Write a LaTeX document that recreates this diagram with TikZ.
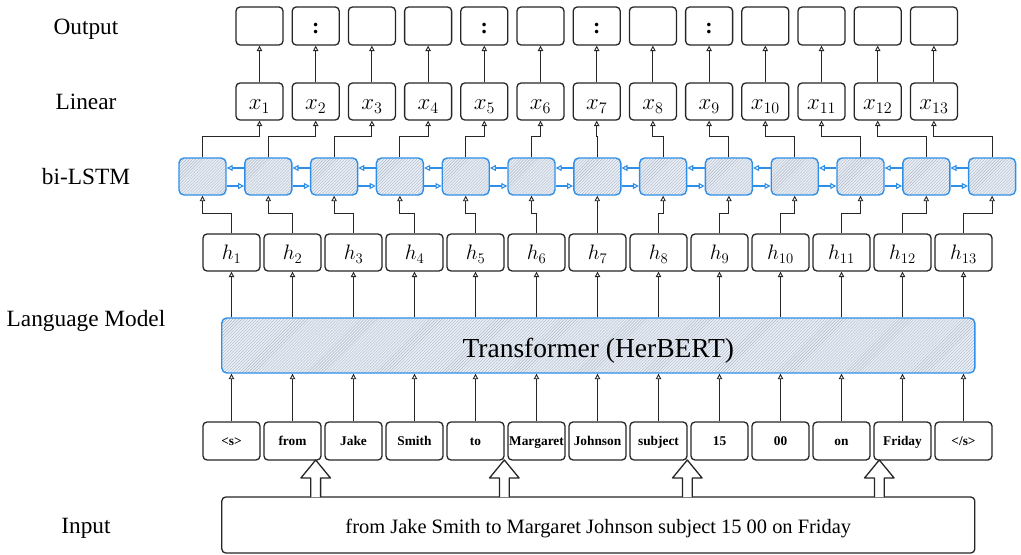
\RequirePackage{fix-cm}
\documentclass[tikz,border=0pt]{standalone}
\usepackage[no-math]{fontspec}
\setmainfont{Liberation Serif}
\DeclareMathSizes{23}{23}{16.1}{11.5}
\DeclareMathSizes{21}{21}{14.7}{10.5}
\usetikzlibrary{arrows.meta,patterns,calc}
\definecolor{lstmblue}{HTML}{2F8FE8}
\definecolor{hatchbg}{HTML}{E8EFF9}
\definecolor{hatchgray}{HTML}{AEB6BF}
\tikzset{
  box/.style={draw=black!85, line width=1.3bp, rounded corners=4bp, fill=white, inner sep=0pt},
  outbox/.style={box, minimum width=47bp, minimum height=38bp},
  linbox/.style={box, minimum width=47bp, minimum height=37bp, font=\fontsize{23}{27}\selectfont,
    text height=17bp, text depth=0bp},
  hbox/.style={box, minimum width=57bp, minimum height=37bp, font=\fontsize{21}{25}\selectfont,
    text height=15bp, text depth=0bp},
  tokbox/.style={box, minimum width=57bp, minimum height=38bp, font=\bfseries\fontsize{13.4}{16}\selectfont,
    text height=9bp, text depth=0bp},
  lstm/.style={draw=lstmblue, line width=1.4bp, rounded corners=5bp, preaction={fill=hatchbg},
    pattern=north east lines, pattern color=hatchgray, minimum width=47bp, minimum height=37bp, inner sep=0pt},
  bigbox/.style={draw=lstmblue, line width=1.4bp, rounded corners=5bp, preaction={fill=hatchbg},
    pattern=north east lines, pattern color=hatchgray, minimum width=753bp, minimum height=55bp, inner sep=0pt,
    font=\fontsize{27.6}{32}\selectfont, text height=23bp, text depth=0bp},
  inbox/.style={box, minimum width=753bp, minimum height=56bp, font=\fontsize{20.5}{24}\selectfont,
    text height=16bp, text depth=0bp},
  layerlabel/.style={font=\fontsize{23.4}{28}\selectfont, inner sep=0pt, anchor=base},
  colonlbl/.style={font=\bfseries\fontsize{22}{26}\selectfont, inner sep=0pt},
  arr/.style={-{Triangle[open,length=5.5bp,width=5.5bp,line width=0.9bp]}, line width=1bp, draw=black!85},
  barr/.style={draw=lstmblue, line width=1.4bp, -{Triangle[open,length=6bp,width=6bp,line width=1.1bp]}},
  blockarrow/.style={draw=black!85, line width=1.3bp, fill=white, line join=round},
}
\begin{document}
\begin{tikzpicture}[x=1bp,y=-1bp]
\useasboundingbox (0,0) rectangle (1021,555);

% layer labels
\node[layerlabel] (lab-out) at (86,35) {Output};
\node[layerlabel] (lab-lin) at (86,110) {Linear};
\node[layerlabel] (lab-lstm) at (86,185) {bi-LSTM};
\node[layerlabel] (lab-lm) at (86,327) {Language Model};
\node[layerlabel] (lab-in) at (86,533) {Input};

% output and linear rows
\foreach \i in {1,...,13}{
  \pgfmathsetmacro{\xo}{259.5+56.2*(\i-1)}
  \node[outbox] (o\i) at (\xo,26) {};
  \node[linbox] (l\i) at (\xo,101.5) {$x_{\i}$};
}
\foreach \i in {2,5,7,9}{
  \node[colonlbl] (c\i) at ($(o\i.center)+(0,3)$) {:};
}

% bi-LSTM row
\foreach \i in {1,...,13}{
  \pgfmathsetmacro{\xb}{202.5+65.8*(\i-1)}
  \node[lstm] (b\i) at (\xb,176.5) {};
}

% h row and tokens
\foreach \i in {1,...,13}{
  \pgfmathsetmacro{\xh}{231.5+61*(\i-1)}
  \node[hbox] (h\i) at (\xh,252.5) {$h_{\i}$};
}
\foreach \t [count=\i] in {<s>,from,Jake,Smith,to,Margaret,Johnson,subject,15,00,on,Friday,</s>}{
  \pgfmathsetmacro{\xt}{231.5+61*(\i-1)}
  \node[tokbox] (t\i) at (\xt,441) {\t};
}

% transformer and input
\node[bigbox] (tf) at (598.3,345.5) {Transformer (HerBERT)};
\node[inbox] (inp) at (598.3,525) {from Jake Smith to Margaret Johnson subject 15 00 on Friday};

% connectors
\foreach \i in {1,...,13}{
  \draw[arr] (l\i.north) -- (o\i.south);
  \draw[arr] (b\i.north) -- ++(0,-21) -| (l\i.south);
  \draw[arr] (h\i.north) -- ++(0,-20) -| (b\i.south);
  \draw[arr] (h\i.south |- tf.north) -- (h\i.south);
  \draw[arr] (t\i.north) -- (t\i.north |- tf.south);
}
\foreach \i [evaluate=\i as \j using int(\i+1)] in {1,...,12}{
  \draw[barr] ([yshift=8.5bp]b\j.west) -- ([yshift=8.5bp]b\i.east);
  \draw[barr] ([yshift=-9.5bp]b\i.east) -- ([yshift=-9.5bp]b\j.west);
}

% block arrows from input to tokens
\foreach \xa in {315.7,504.3,687.3,879.3}{
  \draw[blockarrow] (\xa-4.9,497) -- (\xa-4.9,478) -- (\xa-14.8,478) -- (\xa,460)
    -- (\xa+14.8,478) -- (\xa+4.9,478) -- (\xa+4.9,497);
}
\end{tikzpicture}
\end{document}
